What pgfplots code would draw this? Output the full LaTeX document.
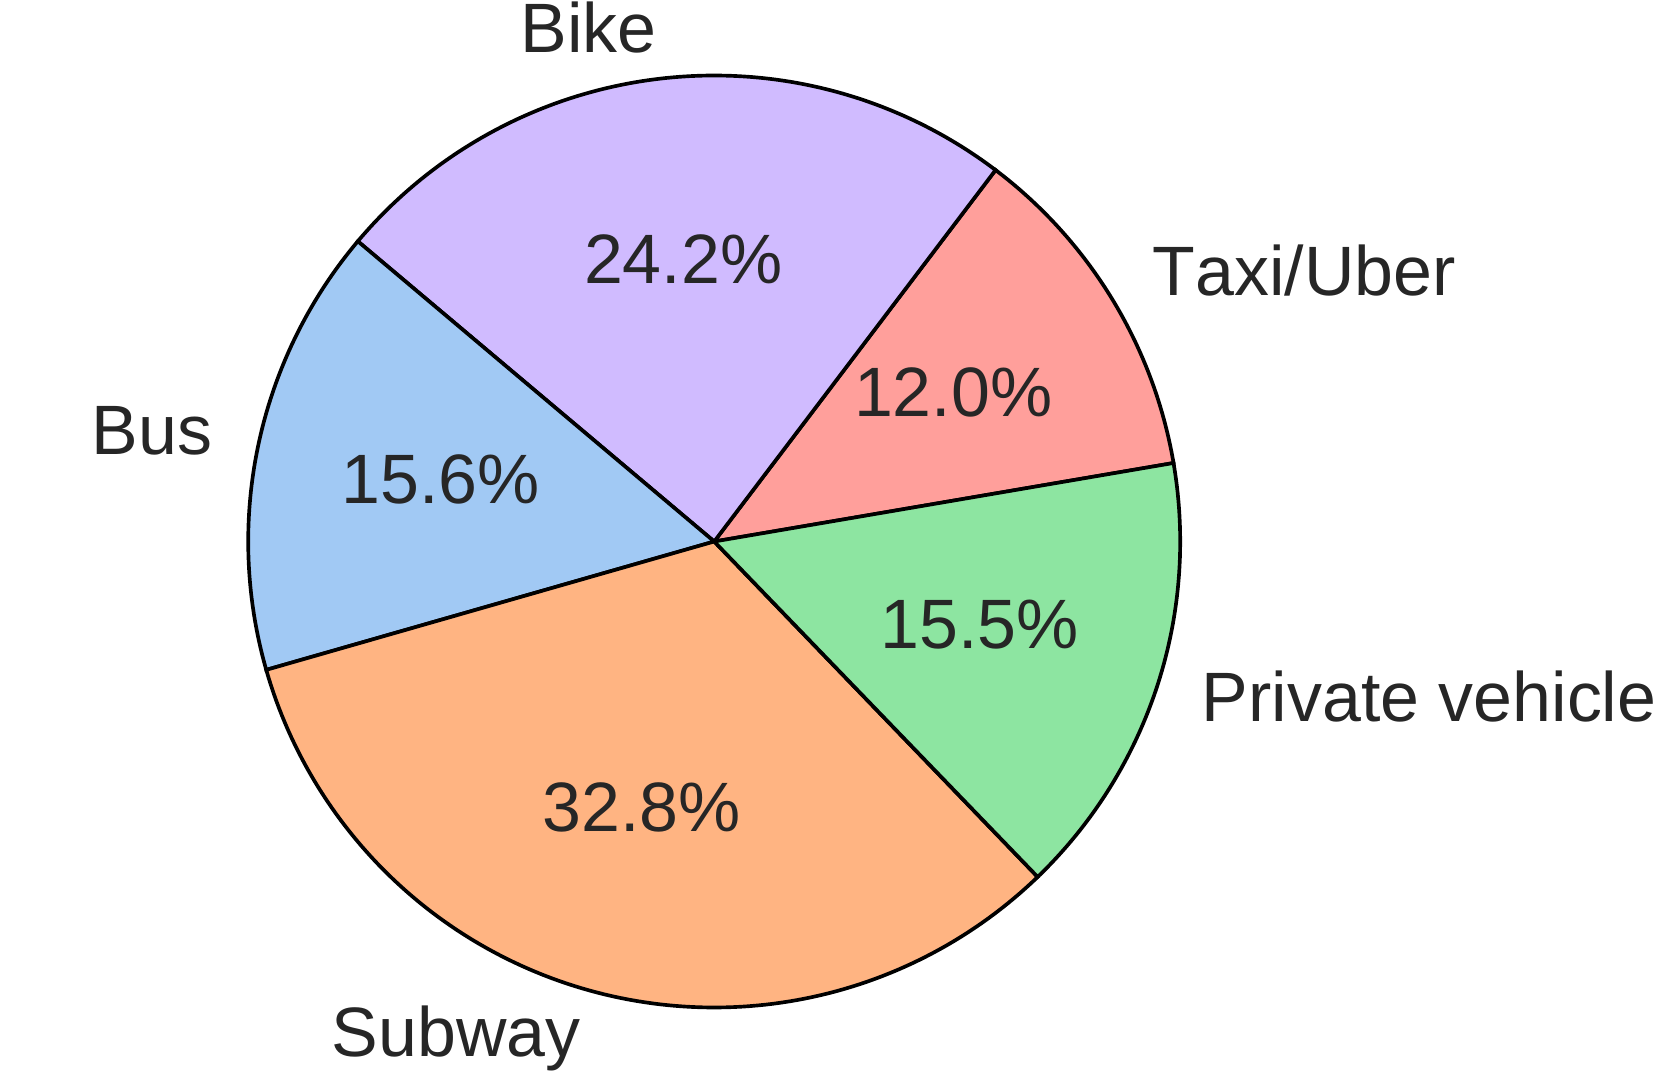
\documentclass[border=0pt]{standalone}
\usepackage{pgfplots}
\pgfplotsset{compat=1.18}
\usepackage{fontspec}
\setmainfont[Kerning=Off]{Liberation Sans}
\definecolor{cBus}{HTML}{A1C9F4}
\definecolor{cSubway}{HTML}{FFB482}
\definecolor{cPrivate}{HTML}{8DE5A1}
\definecolor{cTaxi}{HTML}{FF9F9B}
\definecolor{cBike}{HTML}{D0BBFF}
\definecolor{txt}{HTML}{262626}
\tikzset{lab/.style={font=\fontsize{21}{25}\selectfont, text=txt, inner sep=0pt,
    text height=16.4pt, text depth=4.4pt}}
\begin{document}
\begin{tikzpicture}
% Shares (%): Taxi/Uber 12.0, Bike 24.2, Bus 15.6, Subway 32.8, Private vehicle 15.5
% Wedge angles (degrees), counter-clockwise from 9.70:
%   Taxi 9.70-52.857, Bike 52.857-139.89, Bus 139.89-195.99, Subway 195.99-313.96, Private 313.96-369.70
\begin{axis}[name=ax, hide axis, scale only axis, x=140pt, y=140pt,
  xmin=-1.5326, xmax=2.0296, ymin=-1.1363, ymax=1.162, clip=false]
\pgfplotsset{slice/.style={draw=black, line width=1.1pt, samples=120, variable=\t}}
\addplot[slice, fill=cTaxi, domain=9.70:52.857] ({cos(\t)},{sin(\t)}) -- (axis cs:0,0) -- cycle;
\addplot[slice, fill=cBike, domain=52.857:139.89] ({cos(\t)},{sin(\t)}) -- (axis cs:0,0) -- cycle;
\addplot[slice, fill=cBus, domain=139.89:195.99] ({cos(\t)},{sin(\t)}) -- (axis cs:0,0) -- cycle;
\addplot[slice, fill=cSubway, domain=195.99:313.96] ({cos(\t)},{sin(\t)}) -- (axis cs:0,0) -- cycle;
\addplot[slice, fill=cPrivate, domain=313.96:369.70] ({cos(\t)},{sin(\t)}) -- (axis cs:0,0) -- cycle;
% outer labels at 1.1 R
\node[lab, anchor=west] at (axis cs:{1.1*cos(31.28)},{1.1*sin(31.28)}) {Taxi/Uber};
\node[lab, anchor=east] at (axis cs:{1.1*cos(96.37)},{1.1*sin(96.37)}) {Bike};
\node[lab, anchor=east] at (axis cs:{1.1*cos(167.94)},{1.1*sin(167.94)}) {Bus};
\node[lab, anchor=east] at (axis cs:{1.1*cos(254.97)},{1.1*sin(254.97)}) {Subway};
\node[lab, anchor=west] at (axis cs:{1.1*cos(341.83)},{1.1*sin(341.83)}) {Private vehicle};
% percentages at 0.6 R
\node[lab] at (axis cs:{0.6*cos(31.28)},{0.6*sin(31.28)}) {12.0\%};
\node[lab] at (axis cs:{0.6*cos(96.37)},{0.6*sin(96.37)}) {24.2\%};
\node[lab] at (axis cs:{0.6*cos(167.94)},{0.6*sin(167.94)}) {15.6\%};
\node[lab] at (axis cs:{0.6*cos(254.97)},{0.6*sin(254.97)}) {32.8\%};
\node[lab] at (axis cs:{0.6*cos(341.83)},{0.6*sin(341.83)}) {15.5\%};
\end{axis}
\pgfresetboundingbox
\path (ax.south west) rectangle (ax.north east);
\end{tikzpicture}
\end{document}
